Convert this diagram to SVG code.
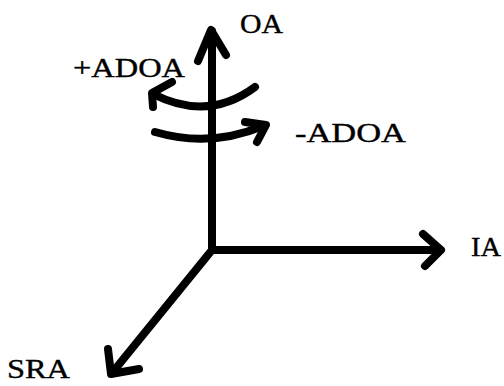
<svg xmlns="http://www.w3.org/2000/svg" width="504" height="386" viewBox="0 0 504 386">
<style>
.ln{fill:none;stroke:#000;stroke-width:8;stroke-linecap:round;stroke-linejoin:round}
.lbl{font-family:"Liberation Serif","Times New Roman",serif;font-size:28px;fill:#000;stroke:#000;stroke-width:0.4}
</style>
<rect width="504" height="386" fill="#fff"/>
<g id="connectors">
<path class="ln" d="M212,250 L212,31"/>
<path class="ln" d="M198,61 L211,30 L226,55"/>
<path class="ln" d="M212,250 L440,250"/>
<path class="ln" d="M423,234 L441,250 L425,266"/>
<path class="ln" d="M212,250 L112,373"/>
<path class="ln" d="M108,349 L111,374 L139,369"/>
<path class="ln" d="M255,87 Q208,122 153,94"/>
<path class="ln" d="M172,82 L152,93 L153,107"/>
<path class="ln" d="M155,132 Q210,148 263,126"/>
<path class="ln" d="M245,122 L266,125 L257,142"/>
</g>
<g id="OA"><text class="lbl" x="240" y="33" textLength="43" lengthAdjust="spacingAndGlyphs">OA</text></g>
<g id="plusADOA"><text class="lbl" x="73" y="77" textLength="112" lengthAdjust="spacingAndGlyphs">+ADOA</text></g>
<g id="minusADOA"><text class="lbl" x="295" y="142" textLength="111" lengthAdjust="spacingAndGlyphs">-ADOA</text></g>
<g id="IA"><text class="lbl" x="471" y="256" textLength="30" lengthAdjust="spacingAndGlyphs">IA</text></g>
<g id="SRA"><text class="lbl" x="7" y="378" textLength="63" lengthAdjust="spacingAndGlyphs">SRA</text></g>
</svg>
